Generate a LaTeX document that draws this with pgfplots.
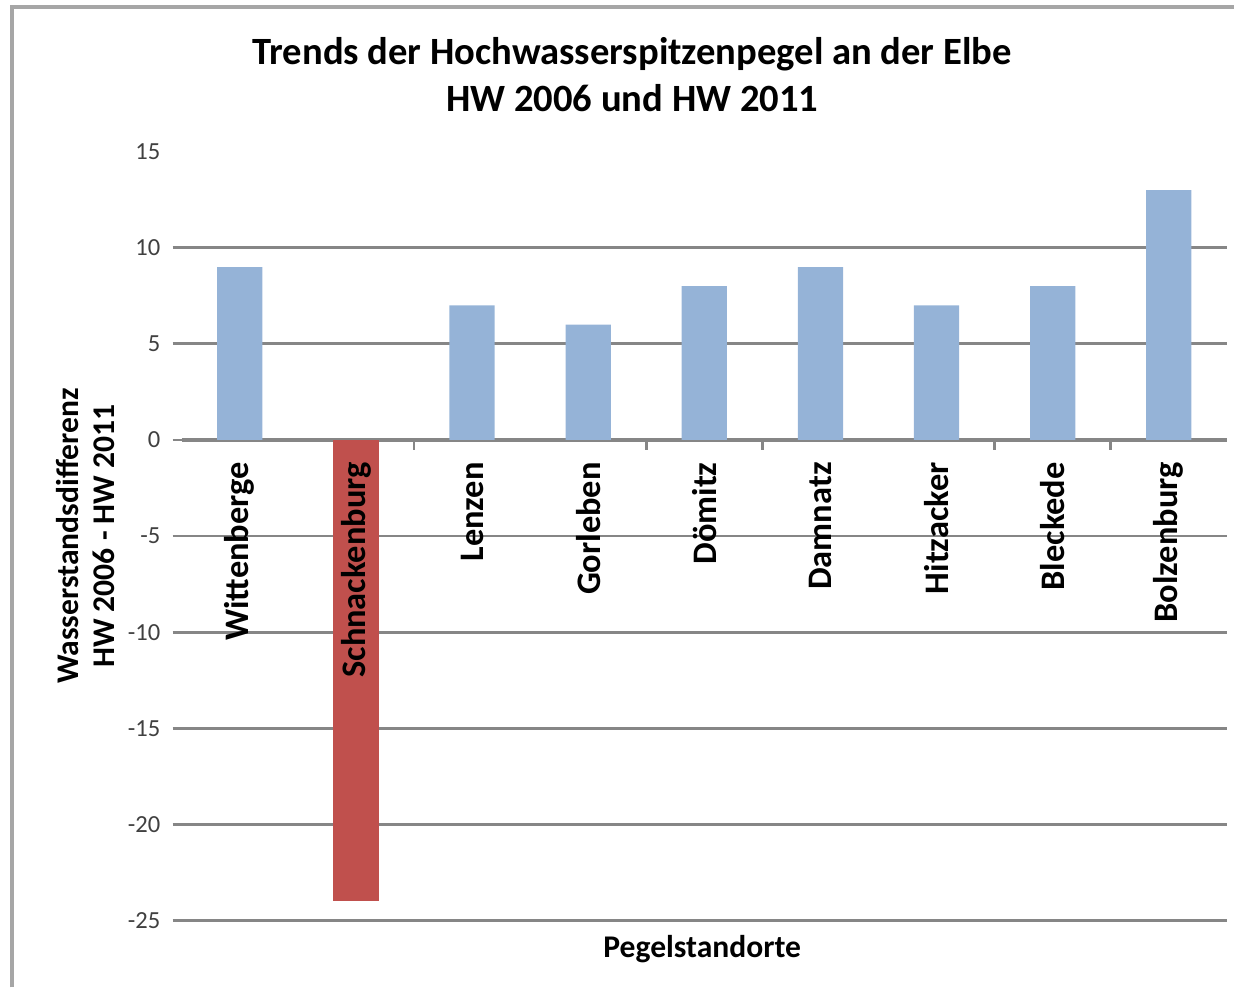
\documentclass[border=0pt]{standalone}
\usepackage{fontspec}
\setmainfont{Carlito}
\usepackage{pgfplots}
\pgfplotsset{compat=1.18}
\definecolor{barblue}{RGB}{149,179,215}
\definecolor{barred}{RGB}{192,80,77}
\definecolor{gridgray}{RGB}{134,134,134}
\pgfplotsset{
  common/.style={
    scale only axis, width=10.47cm, height=7.70cm,
    at={(1.82cm,0.67cm)}, anchor=south west,
    xmin=-0.5, xmax=8.5, ymin=-25, ymax=15,
  },
  catlabels/.style={
    xtick={0,...,8},
    xticklabels={Wittenberge,Schnackenburg,Lenzen,Gorleben,Dömitz,Damnatz,Hitzacker,Bleckede,Bolzenburg},
    xticklabel style={yshift=-0.1cm, font=\bfseries\fontsize{9.8}{11}\selectfont, rotate=90, anchor=east},
  },
}
\begin{document}
\begin{tikzpicture}
\path (0,0) rectangle (12.36cm,9.89cm);
\draw[gray!70, line width=1.2pt] (0.12cm,0cm) -- (0.12cm,9.82cm) -- (12.36cm,9.82cm);
\begin{axis}[
  common,
  axis x line*=middle, axis y line*=left,
  y axis line style={draw=none},
  x axis line style={gridgray, line width=1pt},
  tick align=outside,
  xtick={0,...,8},
  xticklabels={},
  major x tick style={draw=none},
  minor xtick={1.5,3.5,4.5,6.5,7.5},
  minor x tick style={gridgray, line width=0.8pt},
  minor tick length=0.1cm,
  ytick={-25,-20,...,10},
  extra y ticks={15},
  extra y tick style={grid=none, tick style={draw=none}},
  ymajorgrids,
  major grid style={gridgray, line width=0.8pt},
  y tick style={gridgray, line width=0.8pt},
  major tick length=0.09cm,
  /pgf/number format/assume math mode=true,
  yticklabel style={font=\fontsize{7}{8}\selectfont, text=black!75},
  ylabel={Wasserstandsdifferenz\\HW 2006 - HW 2011},
  ylabel style={at={(axis description cs:-0.092,0.5)}, anchor=center, align=center, font=\bfseries\fontsize{9}{10}\selectfont},
  xlabel={Pegelstandorte},
  xlabel style={at={(axis description cs:0.498,-0.037)}, anchor=center, font=\bfseries\fontsize{9}{11}\selectfont},
  title={Trends der Hochwasserspitzenpegel an der Elbe\\HW 2006 und HW 2011},
  title style={at={(axis description cs:0.431,1.073)}, anchor=center, align=center, font=\bfseries\fontsize{11}{13.3}\selectfont},
]
\addplot[ybar, bar width=0.39, bar shift=0pt, fill=barblue, draw=none] coordinates {(0,9) (2,7) (3,6) (4,8) (5,9) (6,7) (7,8) (8,13)};
\addplot[ybar, bar width=0.39, bar shift=0pt, fill=barred, draw=none] coordinates {(1,-24)};
\end{axis}
\begin{axis}[
  common,
  axis x line*=middle, axis y line=none,
  x axis line style={draw=none},
  major x tick style={draw=none},
  catlabels,
]
\end{axis}
\end{tikzpicture}
\end{document}
